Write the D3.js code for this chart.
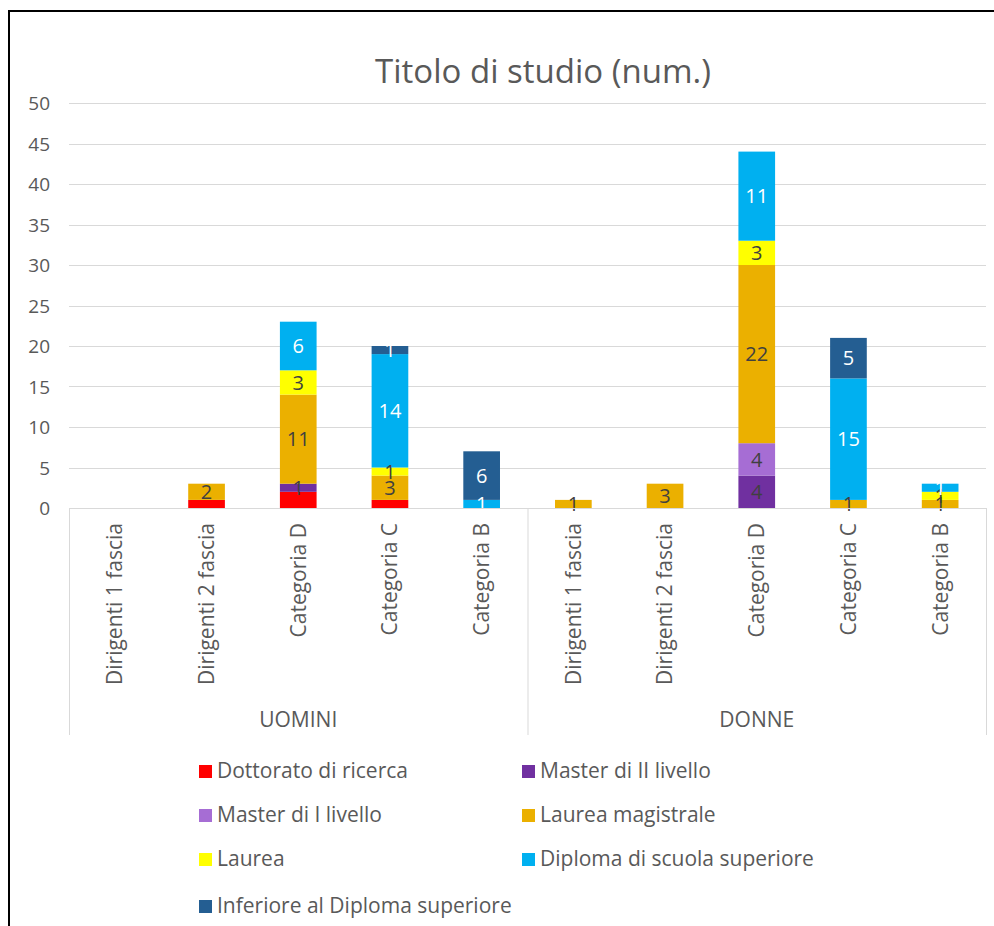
<!DOCTYPE html>
<html>
<head>
<meta charset="utf-8">
<script src="https://cdn.jsdelivr.net/npm/d3@7"></script>
<style>
  body { margin: 0; background: #fff; }
  svg { display: block; font-family: "Open Sans", sans-serif; }
</style>
</head>
<body>
<svg id="chart" width="994" height="926"></svg>
<script>
// ---- data ----
const groups = ["UOMINI", "DONNE"];
const categories = ["Dirigenti 1 fascia", "Dirigenti 2 fascia", "Categoria D", "Categoria C", "Categoria B"];
const seriesNames = ["Dottorato di ricerca", "Master di II livello", "Master di I livello",
  "Laurea magistrale", "Laurea", "Diploma di scuola superiore", "Inferiore al Diploma superiore"];
const seriesColors = ["#FF0000", "#7030A0", "#A66DD4", "#EBB000", "#FFFF00", "#00B0F0", "#245E92"];
const labelColors  = [null, "#404040", "#404040", "#404040", "#404040", "#FFFFFF", "#FFFFFF"];
// order: UOMINI x5, DONNE x5
const dottorato = [0, 1, 2, 1, 0,   0, 0, 0, 0, 0];
const master2   = [0, 0, 1, 0, 0,   0, 0, 4, 0, 0];
const master1   = [0, 0, 0, 0, 0,   0, 0, 4, 0, 0];
const laureaMag = [0, 2, 11, 3, 0,  1, 3, 22, 1, 1];
const laurea    = [0, 0, 3, 1, 0,   0, 0, 3, 0, 1];
const diploma   = [0, 0, 6, 14, 1,  0, 0, 11, 15, 1];
const inferiore = [0, 0, 0, 1, 6,   0, 0, 0, 5, 0];
const yTicks = [0, 5, 10, 15, 20, 25, 30, 35, 40, 45, 50];
const chartTitle = "Titolo di studio (num.)";

(function () {
// ---- build table ----
const seriesVals = [dottorato, master2, master1, laureaMag, laurea, diploma, inferiore];
const keys = [];
groups.forEach(g => categories.forEach(c => keys.push(g + "|" + c)));
const rows = keys.map((k, i) => {
  const r = { key: k, group: k.split("|")[0], cat: k.split("|")[1] };
  seriesNames.forEach((s, j) => r[s] = seriesVals[j][i]);
  return r;
});
const stacked = d3.stack().keys(seriesNames)(rows);

const svg = d3.select("#chart");
const textColor = "#595959";

// frame
svg.append("rect").attr("x", 9).attr("y", 11).attr("width", 1100).attr("height", 1100)
  .attr("fill", "#fff").attr("stroke", "#000").attr("stroke-width", 2);

const pLeft = 69, pRight = 986, pTop = 103, pBottom = 508;
const x = d3.scaleBand().domain(keys).range([pLeft, pRight]).paddingInner(0.6).paddingOuter(0.3);
const y = d3.scaleLinear().domain([0, 50]).range([pBottom, pTop]);

// title
svg.append("text").attr("x", 543).attr("y", 83).attr("text-anchor", "middle")
  .attr("font-size", 33).attr("fill", textColor).text(chartTitle);

// grid
svg.append("g").selectAll("line").data(yTicks.filter(t => t > 0)).join("line")
  .attr("x1", pLeft).attr("x2", pRight)
  .attr("y1", d => Math.round(y(d)) + 0.5).attr("y2", d => Math.round(y(d)) + 0.5)
  .attr("stroke", "#D9D9D9").attr("stroke-width", 1);

// y axis labels
const yAxis = d3.axisLeft(y).tickValues(yTicks).tickSize(0).tickPadding(0);
const yg = svg.append("g").attr("transform", `translate(${50},0)`).call(yAxis);
yg.select(".domain").remove();
yg.selectAll("text").attr("font-size", 19).attr("fill", textColor)
  .attr("font-family", "Open Sans, sans-serif").attr("dy", "0.36em");

// bars
const layer = svg.append("g").selectAll("g").data(stacked).join("g")
  .attr("fill", (d, i) => seriesColors[i]);
layer.selectAll("rect").data(d => d).join("rect")
  .attr("x", d => x(d.data.key))
  .attr("width", x.bandwidth())
  .attr("y", d => y(d[1]))
  .attr("height", d => y(d[0]) - y(d[1]));

// value labels
stacked.forEach((s, i) => {
  if (!labelColors[i]) return;
  svg.append("g").selectAll("text").data(s.filter(d => d[1] - d[0] > 0)).join("text")
    .attr("x", d => x(d.data.key) + x.bandwidth() / 2)
    .attr("y", d => (y(d[0]) + y(d[1])) / 2)
    .attr("dy", "0.36em")
    .attr("text-anchor", "middle")
    .attr("font-size", 20)
    .attr("fill", labelColors[i])
    .text(d => d[1] - d[0]);
});

// category axis
const axisG = svg.append("g");
axisG.append("line").attr("x1", pLeft).attr("x2", pRight).attr("y1", pBottom + 0.5).attr("y2", pBottom + 0.5)
  .attr("stroke", "#D9D9D9");
const gx = d3.scaleBand().domain(groups).range([pLeft, pRight]);
const bounds = [pLeft, gx("DONNE"), pRight];
axisG.selectAll("line.sep").data(bounds).join("line").attr("class", "sep")
  .attr("x1", d => d + 0.5).attr("x2", d => d + 0.5).attr("y1", pBottom).attr("y2", 735)
  .attr("stroke", "#D9D9D9");
axisG.selectAll("text.cat").data(rows).join("text").attr("class", "cat")
  .attr("transform", d => `translate(${x(d.key) + x.bandwidth() / 2},${523}) rotate(-90)`)
  .attr("text-anchor", "end").attr("dy", "0.35em")
  .attr("font-size", 21).attr("fill", textColor).text(d => d.cat);
axisG.selectAll("text.grp").data(groups).join("text").attr("class", "grp")
  .attr("x", d => gx(d) + gx.bandwidth() / 2).attr("y", 727)
  .attr("text-anchor", "middle").attr("font-size", 21).attr("fill", textColor).text(d => d);

// legend
const legCols = [199, 522], legRows = [771, 815, 859, 906];
const lg = svg.append("g").selectAll("g").data(seriesNames).join("g")
  .attr("transform", (d, i) => `translate(${legCols[i % 2]},${legRows[Math.floor(i / 2)]})`);
lg.append("rect").attr("x", 0).attr("y", -6).attr("width", 13).attr("height", 13)
  .attr("fill", (d, i) => seriesColors[i]);
lg.append("text").attr("x", 18).attr("dy", "0.35em").attr("font-size", 21)
  .attr("fill", textColor).text(d => d);
})();
</script>
</body>
</html>
